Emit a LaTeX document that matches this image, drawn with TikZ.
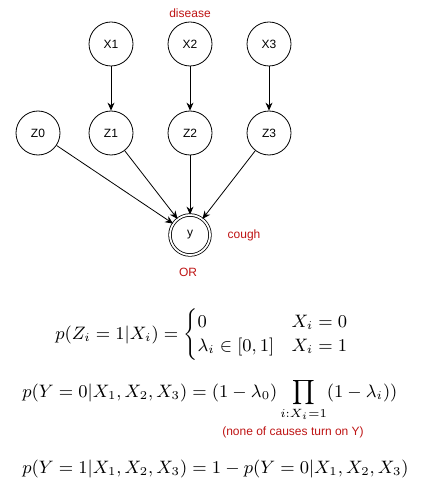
\documentclass[tikz,border=0pt]{standalone}
\usepackage{amsmath, amssymb}
\usepackage{fontspec}
\setsansfont{Liberation Sans}
\usepackage{tikz}
\usetikzlibrary{arrows.meta, positioning}

\begin{document}
\begin{tikzpicture}[x=0.5pt, y=-0.5pt, >={Stealth[length=4pt, width=3.5pt]},
    var/.style={circle, draw, thin, minimum size=22pt, inner sep=0pt,
        font=\sffamily\fontsize{6}{7}\selectfont},
    orvar/.style={var, double, double distance=0.9pt, minimum size=20pt},
    note/.style={text=noteRed, font=\sffamily\fontsize{6}{7}\selectfont},
    formula/.style={inner sep=0pt, font=\fontsize{8.6}{10}\selectfont},
    link/.style={->, thin}]
    % Màu chữ ghi chú
    \definecolor{noteRed}{RGB}{190, 20, 20}

    \useasboundingbox (0,0) rectangle (438,486);

    % 1. Các nút nguyên nhân X1, X2, X3
    \node[var] (x1) at (111,44) {X1};
    \node[var] (x2) at (190,44) {X2};
    \node[var] (x3) at (269,44) {X3};
    \node[note] (disease) at (190,13) {disease};

    % 2. Các biến ẩn Z0..Z3
    \node[var] (z0) at (38,133) {Z0};
    \node[var] (z1) at (111,133) {Z1};
    \node[var] (z2) at (190,133) {Z2};
    \node[var] (z3) at (269,133) {Z3};

    % 3. Nút OR y
    \node[orvar] (y) at (190,235) {y};
    \node[note] (cough) at (244,235) {cough};
    \node[note] (or) at (188,272) {OR};

    % 4. Các mũi tên
    \draw[link] (x1) -- (z1);
    \draw[link] (x2) -- (z2);
    \draw[link] (x3) -- (z3);
    \foreach \z in {z0, z1, z2, z3}
        \draw[link] (\z) -- (y);

    % 5. Công thức
    \node[formula, anchor=west] (eqz) at (55,335)
        {$p(Z_i = 1|X_i) = \begin{cases} 0 & X_i = 0\\ \lambda_i \in [0,1] & X_i = 1 \end{cases}$};
    \node[formula, anchor=base west] (eqy0) at (22,397)
        {$\displaystyle p(Y = 0|X_1, X_2, X_3) = (1-\lambda_0)\prod_{i:X_i=1}(1-\lambda_i))$};
    \node[note] (none) at (293,432) {(none of causes turn on Y)};
    \node[formula, anchor=base west] (eqy1) at (22,473)
        {$p(Y = 1|X_1, X_2, X_3) = 1 - p(Y = 0|X_1, X_2, X_3)$};
\end{tikzpicture}
\end{document}
